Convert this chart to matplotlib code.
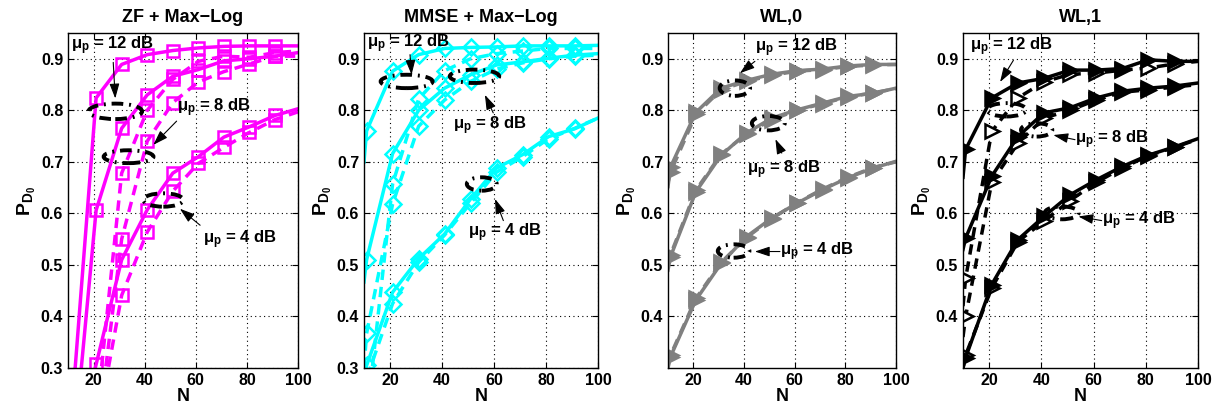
import matplotlib
matplotlib.use('Agg')
import matplotlib.pyplot as plt
from matplotlib.patches import Ellipse

plt.rcParams['font.family'] = ['Liberation Sans', 'DejaVu Sans']
plt.rcParams['font.weight'] = 'bold'
plt.rcParams['mathtext.fontset'] = 'custom'
plt.rcParams['mathtext.rm'] = 'Liberation Sans'
plt.rcParams['mathtext.it'] = 'Liberation Sans'
plt.rcParams['mathtext.bf'] = 'Liberation Sans:bold'

# ---------------- data ----------------
N = [10, 11, 21, 31, 41, 51, 61, 71, 81, 91, 100]
titles = ['ZF + Max\u2212Log', 'MMSE + Max\u2212Log', 'WL,0', 'WL,1']

zf_12_solid = [0.12, 0.185, 0.824, 0.889, 0.908, 0.916, 0.921, 0.924, 0.925, 0.925, 0.925]
zf_12_dash  = [0.00, 0.05, 0.20, 0.678, 0.80, 0.86, 0.895, 0.905, 0.903, 0.912, 0.915]
zf_8_solid  = [0.03, 0.078, 0.606, 0.765, 0.830, 0.866, 0.879, 0.896, 0.900, 0.905, 0.912]
zf_8_dash   = [0.00, 0.05, 0.15, 0.55, 0.74, 0.815, 0.855, 0.875, 0.89, 0.905, 0.905]
zf_4_solid  = [0.05, 0.10, 0.307, 0.51, 0.607, 0.678, 0.71, 0.748, 0.768, 0.79, 0.803]
zf_4_dash   = [0.00, 0.05, 0.17, 0.441, 0.564, 0.643, 0.697, 0.728, 0.757, 0.782, 0.797]

mm_12_solid = [0.70, 0.76, 0.876, 0.908, 0.92, 0.922, 0.923, 0.925, 0.925, 0.925, 0.926]
mm_12_dash  = [0.15, 0.20, 0.657, 0.822, 0.877, 0.90, 0.91, 0.915, 0.92, 0.92, 0.92]
mm_8_solid  = [0.467, 0.51, 0.716, 0.80, 0.843, 0.869, 0.888, 0.894, 0.901, 0.907, 0.91]
mm_8_dash   = [0.30, 0.367, 0.618, 0.769, 0.82, 0.856, 0.88, 0.892, 0.90, 0.905, 0.907]
mm_4_solid  = [0.28, 0.305, 0.447, 0.512, 0.56, 0.628, 0.688, 0.714, 0.749, 0.764, 0.785]
mm_4_dash   = [0.25, 0.28, 0.425, 0.505, 0.558, 0.62, 0.68, 0.71, 0.745, 0.765, 0.785]

wl0_12_solid = [0.652, 0.69, 0.796, 0.843, 0.858, 0.87, 0.877, 0.88, 0.886, 0.889, 0.889]
wl0_12_dash  = [0.66, 0.68, 0.792, 0.84, 0.856, 0.868, 0.876, 0.879, 0.885, 0.888, 0.889]
wl0_8_solid  = [0.49, 0.516, 0.642, 0.713, 0.756, 0.785, 0.801, 0.814, 0.827, 0.833, 0.843]
wl0_8_dash   = [0.50, 0.52, 0.645, 0.715, 0.754, 0.782, 0.80, 0.813, 0.826, 0.834, 0.842]
wl0_4_solid  = [0.30, 0.322, 0.432, 0.503, 0.555, 0.591, 0.62, 0.646, 0.669, 0.688, 0.701]
wl0_4_dash   = [0.305, 0.325, 0.435, 0.505, 0.553, 0.59, 0.621, 0.647, 0.67, 0.689, 0.70]

wl1_12_solid = [0.67, 0.724, 0.824, 0.853, 0.862, 0.878, 0.878, 0.881, 0.898, 0.895, 0.895]
wl1_12_dash  = [0.42, 0.474, 0.759, 0.824, 0.855, 0.87, 0.872, 0.878, 0.882, 0.89, 0.895]
wl1_8_solid  = [0.53, 0.552, 0.672, 0.749, 0.795, 0.805, 0.824, 0.837, 0.843, 0.847, 0.853]
wl1_8_dash   = [0.36, 0.40, 0.66, 0.736, 0.785, 0.80, 0.82, 0.835, 0.84, 0.845, 0.85]
wl1_4_solid  = [0.30, 0.32, 0.462, 0.549, 0.594, 0.636, 0.665, 0.691, 0.713, 0.729, 0.745]
wl1_4_dash   = [0.30, 0.325, 0.455, 0.545, 0.585, 0.625, 0.66, 0.688, 0.712, 0.728, 0.744]

series = [
    [(zf_12_solid, zf_12_dash), (zf_8_solid, zf_8_dash), (zf_4_solid, zf_4_dash)],
    [(mm_12_solid, mm_12_dash), (mm_8_solid, mm_8_dash), (mm_4_solid, mm_4_dash)],
    [(wl0_12_solid, wl0_12_dash), (wl0_8_solid, wl0_8_dash), (wl0_4_solid, wl0_4_dash)],
    [(wl1_12_solid, wl1_12_dash), (wl1_8_solid, wl1_8_dash), (wl1_4_solid, wl1_4_dash)],
]

# styles per panel: color, marker, markersize, solid face, dash face
styles = [
    ('#ff00ff', 's', 8, 'none', 'none'),
    ('#00ffff', 'D', 8.5, 'none', 'none'),
    ('#808080', '>', 10, '#808080', '#808080'),
    ('#000000', '>', 10, '#000000', 'white'),
]

labels = [r'$\mu_\mathbf{p}$ = 12 dB', r'$\mu_\mathbf{p}$ = 8 dB', r'$\mu_\mathbf{p}$ = 4 dB']

# annotations per panel: for each mu: text pos, arrow tail, arrow head, ellipse (cx, cy, w, h)
annots = [
    [((11, 0.925), (27.7, 0.893), (28.5, 0.823), (28.5, 0.798, 21, 0.03)),
     ((52.5, 0.805), (52.5, 0.779), (43.4, 0.733), (33.7, 0.71, 19.5, 0.025)),
     ((62.9, 0.548), (61.7, 0.577), (53.8, 0.609), (47.3, 0.626, 15.6, 0.026))],
    [((11, 0.93), (27.7, 0.908), (28.3, 0.869), (26.4, 0.856, 20, 0.026)),
     ((44.4, 0.77), (59.7, 0.795), (56.5, 0.83), (52.5, 0.866, 19, 0.026)),
     ((50.1, 0.563), (63.6, 0.586), (60.4, 0.628), (55.3, 0.657, 11.5, 0.026))],
    [((44.3, 0.922), (44.3, 0.895), (38.4, 0.872), (36.4, 0.843, 12, 0.03)),
     ((41.2, 0.685), (54.9, 0.717), (52.4, 0.744), (49.6, 0.775, 13, 0.028)),
     ((54.2, 0.525), (54.2, 0.526), (44.3, 0.526), (35.9, 0.527, 12.5, 0.026))],
    [((12.7, 0.924), (29.3, 0.897), (24.2, 0.855), (26.7, 0.801, 15, 0.026)),
     ((52.9, 0.743), (52.9, 0.743), (44.6, 0.752), (38.2, 0.762, 12, 0.026)),
     ((63.1, 0.586), (63.1, 0.586), (54.2, 0.594), (47.8, 0.601, 13, 0.025))],
]

fig = plt.figure(figsize=(12.22, 4.17), dpi=100)
W, H = 1222, 417
lefts = [68, 364, 668, 963]
rights = [298, 598, 896, 1198]
top, bottom = 33, 368

for i in range(4):
    ax = fig.add_axes([lefts[i] / W, (H - bottom) / H, (rights[i] - lefts[i]) / W, (bottom - top) / H])
    color, mk, ms, fs, fd = styles[i]
    for (ys, yd) in series[i]:
        ax.plot(N, yd, linestyle=(0, (3.0, 2.0)), color=color, lw=2.5, marker=mk, ms=ms,
                mfc=fd, mec=color, mew=1.8, markevery=slice(1, 10), clip_on=True)
        ax.plot(N, ys, linestyle='-', color=color, lw=2.5, marker=mk, ms=ms,
                mfc=fs, mec=color, mew=1.8, markevery=slice(1, 10), clip_on=True)
    ax.set_xlim(10, 100)
    ax.set_ylim(0.3, 0.95)
    ax.set_xticks([20, 40, 60, 80, 100])
    if i < 2:
        ax.set_yticks([0.3, 0.4, 0.5, 0.6, 0.7, 0.8, 0.9])
    else:
        ax.set_yticks([0.4, 0.5, 0.6, 0.7, 0.8, 0.9])
    ax.grid(True, linestyle=(0, (1, 3)), color='k', lw=0.8)
    ax.tick_params(direction='in', top=True, right=True, labelsize=11.5, length=4)
    for lab in ax.get_xticklabels() + ax.get_yticklabels():
        lab.set_fontweight('bold')
    for sp in ax.spines.values():
        sp.set_linewidth(1.0)
    ax.set_title(titles[i], fontsize=13, fontweight='bold', pad=8)
    ax.set_xlabel('N', fontsize=13, fontweight='bold', labelpad=0)
    ax.set_ylabel(r'$\mathbf{P_{D_0}}$', fontsize=14, labelpad=2)

    for j, (tpos, tail, head, ell) in enumerate(annots[i]):
        ax.text(tpos[0], tpos[1], labels[j], fontsize=12, fontweight='bold', ha='left', va='center')
        ax.annotate('', xy=head, xytext=tail,
                    arrowprops=dict(arrowstyle='-|>,head_length=0.9,head_width=0.3',
                                    color='k', lw=0.8, shrinkA=0, shrinkB=0))
        cx, cy, w, h = ell
        ax.add_patch(Ellipse((cx, cy), w, h, fill=False, edgecolor='k', lw=2.8,
                             linestyle=(0, (3, 1.5, 0.5, 1.5)), zorder=5))

fig.savefig('out.png', dpi=100)
